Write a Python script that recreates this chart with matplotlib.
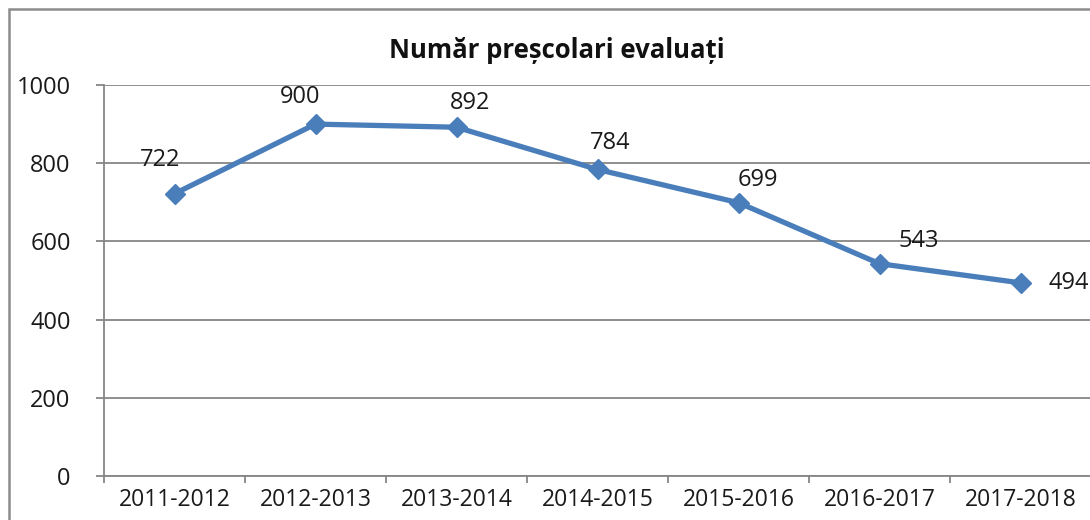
import matplotlib.pyplot as plt
from matplotlib.patches import Rectangle

years = ['2011-2012', '2012-2013', '2013-2014', '2014-2015',
         '2015-2016', '2016-2017', '2017-2018']
evaluati = [722, 900, 892, 784, 699, 543, 494]
title = 'Număr preșcolari evaluați'

# label offsets in pixels (dx, dy) relative to each point
offsets = [(-14, 34), (-15, 27), (14, 24), (13, 26), (19, 23), (39, 23), (48, 0)]

plt.rcParams['font.family'] = ['Open Sans', 'DejaVu Sans']

fig = plt.figure(figsize=(10.9, 5.2), dpi=100)
fig.patches.append(Rectangle((9 / 1090, -0.1), 1.2, (520 - 9) / 520 + 0.1,
                             transform=fig.transFigure, fill=False,
                             edgecolor='#8c8c8c', linewidth=1.8))

ax = fig.add_axes([104 / 1090, 44 / 520, 987 / 1090, 391 / 520])
x = list(range(len(years)))
ax.plot(x, evaluati, color='#4a7ebb', linewidth=3.8, marker='D',
        markersize=10.5, markerfacecolor='#4a7ebb', markeredgecolor='#4a7ebb')

for xi, v, (dx, dy) in zip(x, evaluati, offsets):
    ax.annotate(str(v), (xi, v), xytext=(dx * 0.72, dy * 0.72),
                textcoords='offset points', ha='center', va='center',
                fontsize=17, color='#1a1a1a')

ax.set_xlim(-0.5, len(years) - 0.5)
ax.set_ylim(0, 1000)
ax.set_yticks(range(0, 1001, 200))
ax.set_xticks(x)
ax.set_xticklabels(years)
ax.set_xticks([i - 0.5 for i in range(len(years) + 1)], minor=True)
ax.tick_params(axis='x', which='major', length=0, pad=9, labelsize=16.5,
               labelcolor='#1a1a1a')
ax.tick_params(axis='x', which='minor', length=5, color='#868686', width=1.3)
ax.tick_params(axis='y', length=6, color='#868686', width=1.3, pad=18,
               labelsize=17, labelcolor='#1a1a1a')

ax.grid(axis='y', color='#868686', linewidth=1.3)
ax.set_axisbelow(True)
for side in ['top', 'right']:
    ax.spines[side].set_visible(False)
for side in ['left', 'bottom']:
    ax.spines[side].set_color('#868686')
    ax.spines[side].set_linewidth(1.3)

fig.text(557 / 1090, 1 - 50 / 520, title, ha='center', va='center',
         fontsize=18.5, fontweight='bold', color='#111111')

fig.savefig('out.png', dpi=100)
